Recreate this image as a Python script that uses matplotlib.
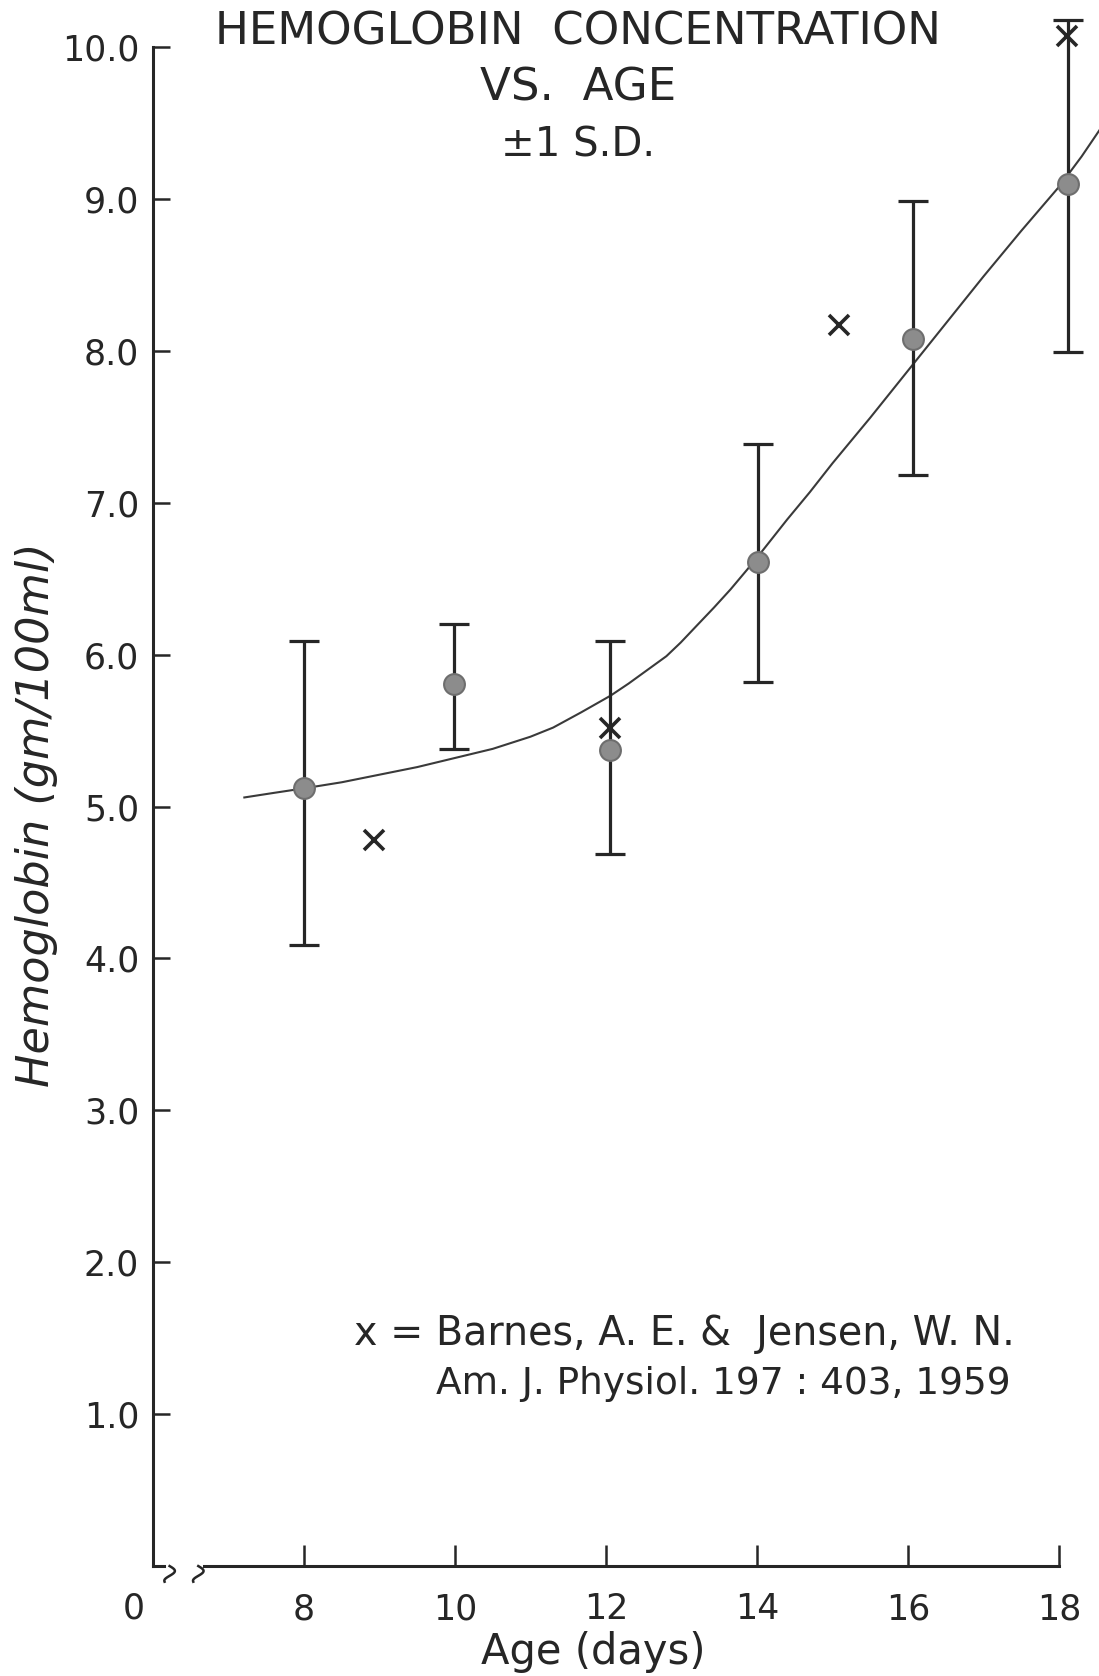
import matplotlib
matplotlib.use("Agg")
import matplotlib.pyplot as plt
import matplotlib.transforms as mtransforms
import numpy as np

# mean hemoglobin +- 1 S.D. (circles)
age = [8.0, 9.99, 12.05, 14.02, 16.07, 18.12]
hb_mean = [5.12, 5.81, 5.37, 6.61, 8.08, 9.10]
hb_upper = [6.09, 6.20, 6.09, 7.39, 8.99, 10.18]
hb_lower = [4.09, 5.38, 4.69, 5.82, 7.18, 7.99]

# Barnes & Jensen values (x marks)
barnes_age = [8.93, 12.05, 15.08, 18.10]
barnes_hb = [4.78, 5.52, 8.17, 10.07]

# hand drawn smooth curve
curve_age = [7.21, 7.6, 8.0, 8.5, 9.0, 9.5, 10.0, 10.5, 11.0, 11.3, 11.67, 12.06,
             12.3, 12.55, 12.8, 12.99, 13.2, 13.43, 13.65, 13.87, 14.05, 14.4,
             14.7, 15.0, 15.5, 16.0, 16.5, 17.0, 17.5, 18.0, 18.3, 18.6]
curve_hb = [5.06, 5.09, 5.12, 5.16, 5.21, 5.26, 5.32, 5.38, 5.46, 5.52, 5.62, 5.73,
            5.81, 5.90, 5.99, 6.08, 6.19, 6.31, 6.43, 6.56, 6.67, 6.89,
            7.07, 7.26, 7.56, 7.87, 8.18, 8.49, 8.79, 9.08, 9.28, 9.50]

x_ticks = [8, 10, 12, 14, 16, 18]
y_ticks = [1, 2, 3, 4, 5, 6, 7, 8, 9, 10]

ink = "#262626"

fig = plt.figure(figsize=(10.99, 16.76), dpi=100)
ax = fig.add_axes([0.1392, 0.0656, 0.8608, 0.9344])
ax.set_xlim(6, 18.53)
ax.set_ylim(0, 10.31)

ax.plot(curve_age, curve_hb, color="#3a3a3a", lw=1.5, zorder=2)

yerr = [np.array(hb_mean) - np.array(hb_lower), np.array(hb_upper) - np.array(hb_mean)]
ax.errorbar(age, hb_mean, yerr=yerr, fmt="none", ecolor=ink, elinewidth=2.3,
            capsize=11, capthick=2.3, zorder=3)
ax.plot(age, hb_mean, "o", ms=15, mfc="#8c8c8c", mec="#6e6e6e", mew=1.5, zorder=4)
ax.plot(barnes_age, barnes_hb, "x", ms=14, mew=2.6, color=ink, zorder=5)

# axes look
ax.spines["top"].set_visible(False)
ax.spines["right"].set_visible(False)
ax.spines["bottom"].set_visible(False)
ax.spines["left"].set_bounds(0, 10)
ax.spines["left"].set_linewidth(2.2)
ax.spines["left"].set_color(ink)

ax.set_yticks(y_ticks)
ax.set_yticklabels([f"{v:.1f}" for v in y_ticks])
ax.set_xticks(x_ticks)
ax.set_xticklabels([str(v) for v in x_ticks])
ax.tick_params(axis="y", direction="in", length=12, width=1.8, color=ink,
               labelsize=25, pad=10, labelcolor=ink)
ax.tick_params(axis="x", direction="in", length=15, width=1.8, color=ink,
               labelsize=25, pad=19, labelcolor=ink)

# broken x axis
tr = mtransforms.blended_transform_factory(ax.transData, ax.transAxes)
ax.plot([6, 6.15], [0, 0], color=ink, lw=2.2, transform=tr, clip_on=False)
ax.plot([6.68, 18], [0, 0], color=ink, lw=2.2, transform=tr, clip_on=False)
for xb in [6.22, 6.6]:
    t = np.linspace(0, 1, 30)
    ax.plot(xb + 0.07 * np.sin(t * 1.6 * np.pi), -t * 0.010, color=ink,
            lw=1.8, transform=tr, clip_on=False)
ax.text(5.75, -0.0165, "0", transform=tr, ha="center", va="top", fontsize=25,
        color=ink)

ax.set_ylabel("Hemoglobin (gm/100ml)", fontsize=32, style="italic", color=ink)
ax.yaxis.set_label_coords(-0.1, 0.48)
fig.text(0.54, 0.0145, "Age (days)", ha="center", va="center", fontsize=30, color=ink)

fig.text(0.526, 0.981, "HEMOGLOBIN  CONCENTRATION", ha="center", va="center",
         fontsize=32.5, color=ink)
fig.text(0.526, 0.9475, "VS.  AGE", ha="center", va="center", fontsize=32.5,
         color=ink)
fig.text(0.526, 0.913, "±1 S.D.", ha="center", va="center", fontsize=29,
         color=ink)

fig.text(0.322, 0.204, "x = Barnes, A. E. &  Jensen, W. N.", ha="left", va="center",
         fontsize=28.5, color=ink)
fig.text(0.397, 0.174, "Am. J. Physiol. 197 : 403, 1959", ha="left", va="center",
         fontsize=27, color=ink)

fig.savefig("out.png", dpi=100)
